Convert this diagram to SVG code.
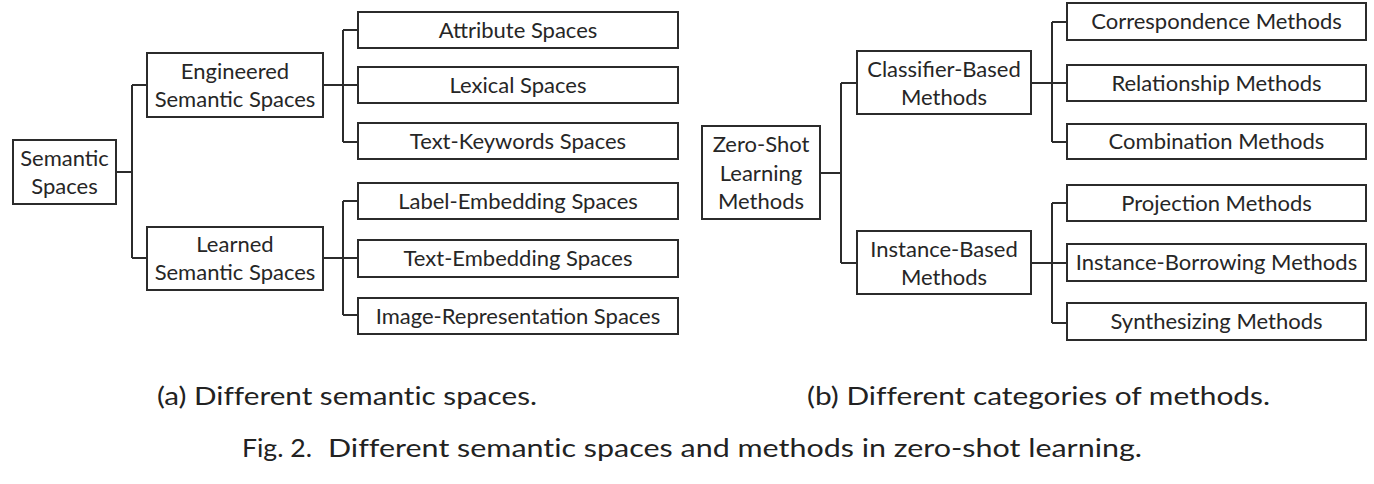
<svg xmlns="http://www.w3.org/2000/svg" width="1374" height="484" viewBox="0 0 1374 484">
  <style>
    .box { fill: #ffffff; stroke: #2b2b2b; stroke-width: 2; }
    .lbl { font-family: Lato, "Open Sans", sans-serif; font-size: 22px; fill: #262626; text-anchor: middle; }
    .wire { fill: none; stroke: #2b2b2b; stroke-width: 2; }
    .cap { font-family: Lato, "Open Sans", sans-serif; font-size: 25px; fill: #222222; font-variant-ligatures: none; font-feature-settings: "liga" 0, "dlig" 0; }
  </style>
  <rect width="1374" height="484" fill="#ffffff"/>

  <!-- connectors -->
  <g id="connectors" class="wire">
    <!-- (a) semantic spaces tree -->
    <path d="M116 172 H132 M132 85 V258 M132 85 H147 M132 258 H147"/>
    <path d="M323 85 H343 M343 30 V142 M343 30 H358 M343 85 H358 M343 142 H358"/>
    <path d="M323 258 H343 M343 201 V315 M343 201 H358 M343 258 H358 M343 315 H358"/>
    <!-- (b) method categories tree -->
    <path d="M820 173 H841 M841 83 V263 M841 83 H857 M841 263 H857"/>
    <path d="M1031 83 H1052 M1052 22 V142 M1052 22 H1067 M1052 83 H1067 M1052 142 H1067"/>
    <path d="M1031 263 H1052 M1052 203 V323 M1052 203 H1067 M1052 263 H1067 M1052 323 H1067"/>
  </g>

  <!-- (a) nodes -->
  <g id="semantic-spaces">
    <rect class="box" x="13" y="140" width="103" height="64"/>
    <text class="lbl" x="64.5" y="166">Semantic</text>
    <text class="lbl" x="64.5" y="194">Spaces</text>
  </g>
  <g id="engineered">
    <rect class="box" x="147" y="53" width="176" height="64"/>
    <text class="lbl" x="235" y="79">Engineered</text>
    <text class="lbl" x="235" y="107">Semantic Spaces</text>
  </g>
  <g id="learned">
    <rect class="box" x="147" y="227" width="176" height="63"/>
    <text class="lbl" x="235" y="252">Learned</text>
    <text class="lbl" x="235" y="280">Semantic Spaces</text>
  </g>
  <g id="attribute">
    <rect class="box" x="358" y="12" width="320" height="36"/>
    <text class="lbl" x="518" y="38">Attribute Spaces</text>
  </g>
  <g id="lexical">
    <rect class="box" x="358" y="67" width="320" height="36"/>
    <text class="lbl" x="518" y="93">Lexical Spaces</text>
  </g>
  <g id="text-keywords">
    <rect class="box" x="358" y="123" width="320" height="36"/>
    <text class="lbl" x="518" y="149">Text-Keywords Spaces</text>
  </g>
  <g id="label-embedding">
    <rect class="box" x="358" y="183" width="320" height="36"/>
    <text class="lbl" x="518" y="209">Label-Embedding Spaces</text>
  </g>
  <g id="text-embedding">
    <rect class="box" x="358" y="240" width="320" height="37"/>
    <text class="lbl" x="518" y="266">Text-Embedding Spaces</text>
  </g>
  <g id="image-representation">
    <rect class="box" x="358" y="298" width="320" height="36"/>
    <text class="lbl" x="518" y="324">Image-Representation Spaces</text>
  </g>

  <!-- (b) nodes -->
  <g id="zsl-methods">
    <rect class="box" x="702" y="126" width="118" height="93"/>
    <text class="lbl" x="761" y="152">Zero-Shot</text>
    <text class="lbl" x="761" y="181">Learning</text>
    <text class="lbl" x="761" y="209">Methods</text>
  </g>
  <g id="classifier-based">
    <rect class="box" x="857" y="51" width="174" height="63"/>
    <text class="lbl" x="944" y="77">Classifier-Based</text>
    <text class="lbl" x="944" y="105">Methods</text>
  </g>
  <g id="instance-based">
    <rect class="box" x="857" y="231" width="174" height="63"/>
    <text class="lbl" x="944" y="257">Instance-Based</text>
    <text class="lbl" x="944" y="285">Methods</text>
  </g>
  <g id="correspondence">
    <rect class="box" x="1067" y="3" width="299" height="37"/>
    <text class="lbl" x="1216.5" y="29">Correspondence Methods</text>
  </g>
  <g id="relationship">
    <rect class="box" x="1067" y="65" width="299" height="36"/>
    <text class="lbl" x="1216.5" y="91">Relationship Methods</text>
  </g>
  <g id="combination">
    <rect class="box" x="1067" y="124" width="299" height="35"/>
    <text class="lbl" x="1216.5" y="149">Combination Methods</text>
  </g>
  <g id="projection">
    <rect class="box" x="1067" y="185" width="299" height="36"/>
    <text class="lbl" x="1216.5" y="211">Projection Methods</text>
  </g>
  <g id="instance-borrowing">
    <rect class="box" x="1067" y="244" width="299" height="37"/>
    <text class="lbl" x="1216.5" y="270">Instance-Borrowing Methods</text>
  </g>
  <g id="synthesizing">
    <rect class="box" x="1067" y="303" width="299" height="37"/>
    <text class="lbl" x="1216.5" y="329">Synthesizing Methods</text>
  </g>

  <!-- captions -->
  <text class="cap" x="157" y="405" textLength="380" lengthAdjust="spacingAndGlyphs">(a) Different semantic spaces.</text>
  <text class="cap" x="807" y="405" textLength="463" lengthAdjust="spacingAndGlyphs">(b) Different categories of methods.</text>
  <text class="cap" y="457"><tspan x="242" textLength="70" lengthAdjust="spacingAndGlyphs">Fig. 2.</tspan><tspan x="328" textLength="814" lengthAdjust="spacingAndGlyphs">Different semantic spaces and methods in zero-shot learning.</tspan></text>
</svg>
